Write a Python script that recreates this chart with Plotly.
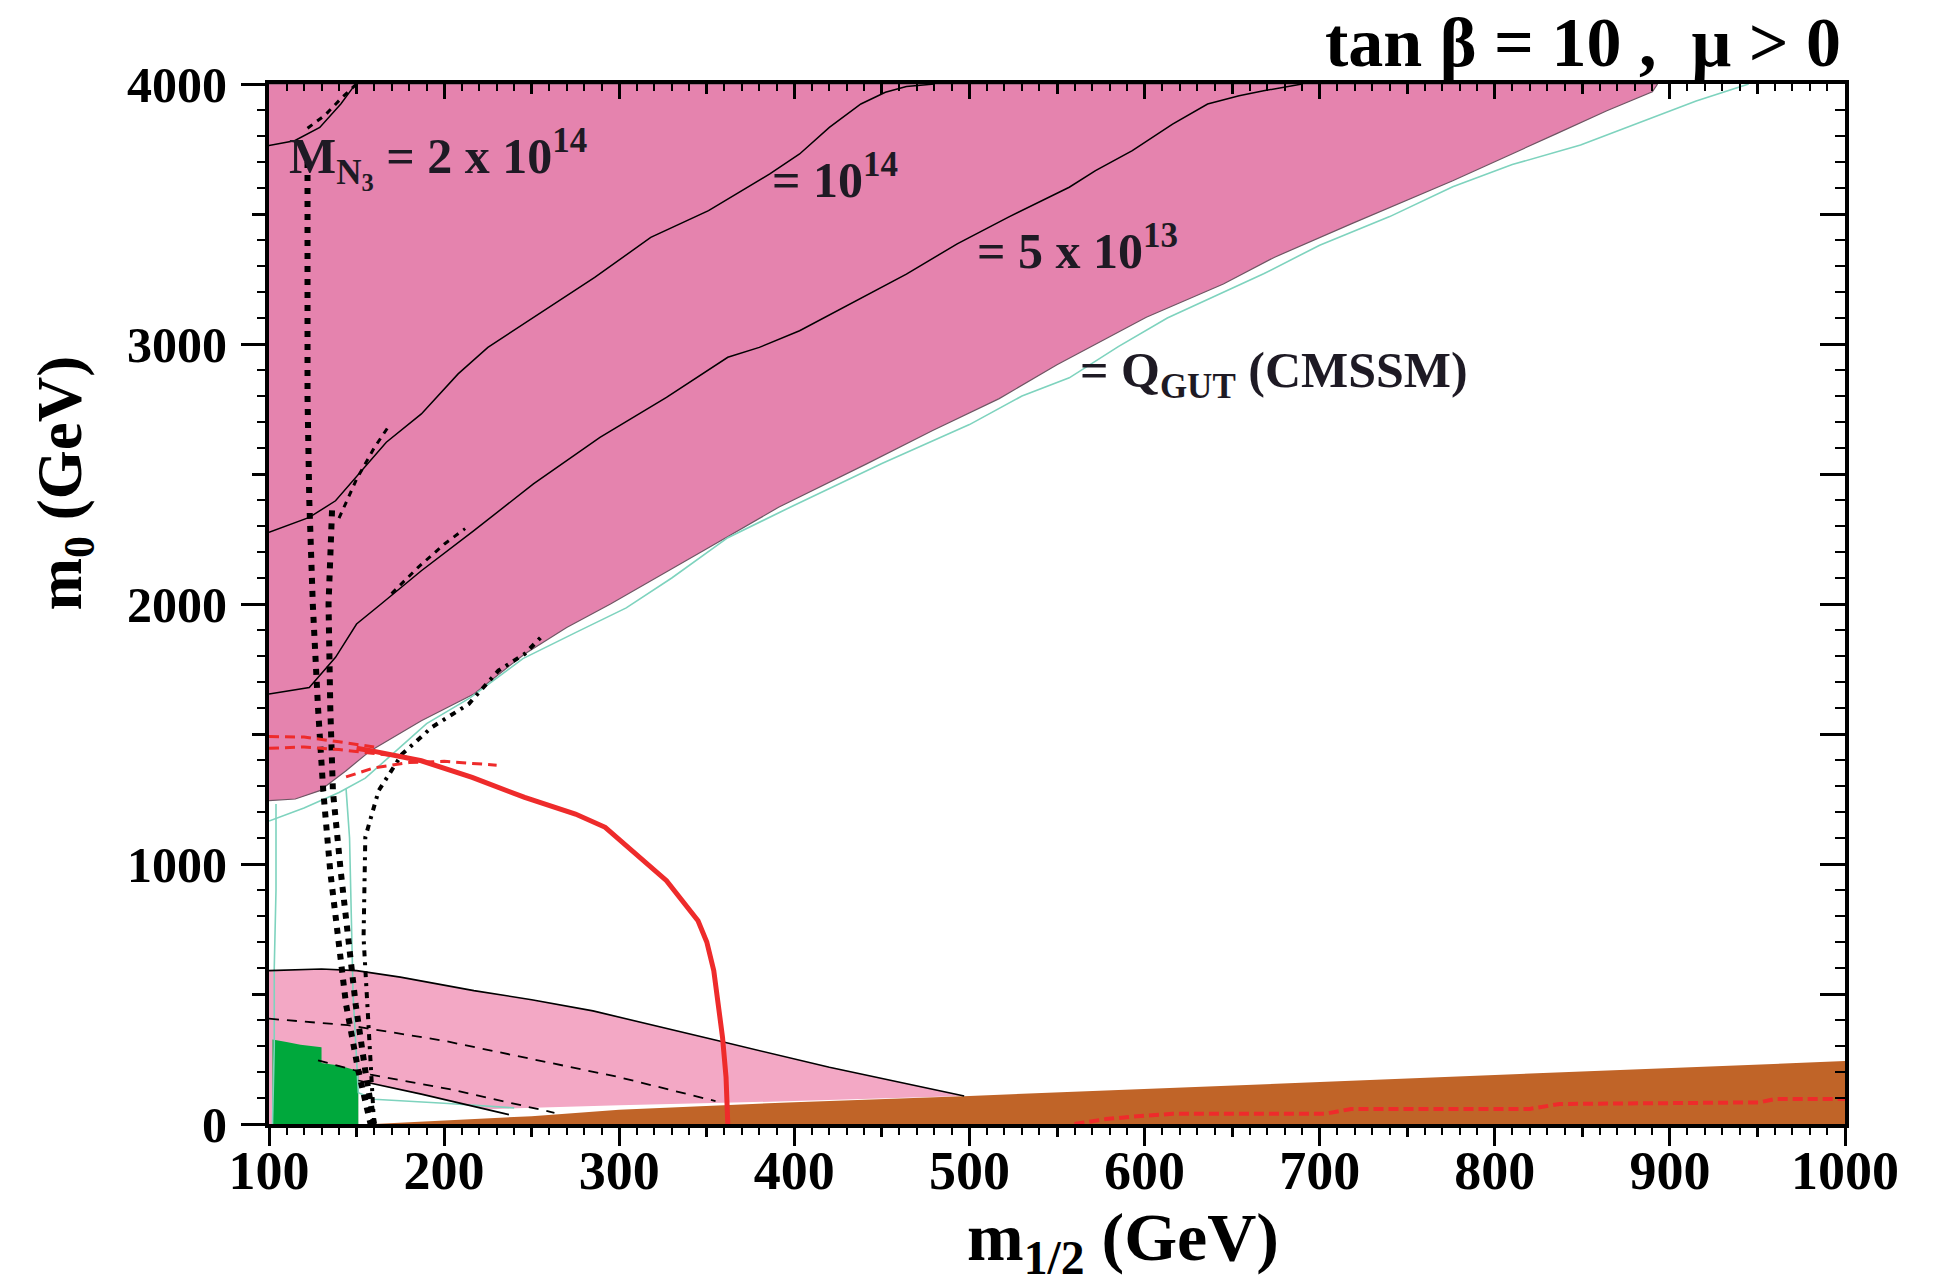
import plotly.graph_objects as go

X_RANGE = [100, 1000]
Y_RANGE = [0, 4000]

# ---- filled regions (m1/2, m0 in GeV) ----
# lower edge of the upper-left excluded band
band_edge_m12 = [100, 115, 129, 144, 158, 187, 217, 246, 270, 295, 348, 391, 441, 479,
                 517, 550, 601, 645, 674, 718, 776, 805, 835, 864, 890, 893]
band_edge_m0 = [1244, 1250, 1282, 1359, 1436, 1551, 1654, 1808, 1910, 2000, 2205, 2372, 2538, 2667,
                2790, 2920, 3103, 3231, 3333, 3462, 3628, 3718, 3808, 3897, 3970, 4000]

# light pink region: upper solid boundary
arc_m12 = [100, 130, 150, 175, 217, 250, 285, 320, 356, 420, 460, 497]
arc_m0 = [590, 596, 590, 565, 513, 478, 435, 380, 321, 218, 162, 108]
# light pink region: lower edge (right to left)
floor_m12 = [497, 400, 300, 225]
floor_m0 = [108, 88, 72, 57]

# lower solid boundary under the light pink region
low_m12 = [151, 187, 237]
low_m0 = [167, 115, 36]

# dashed contours inside the light pink region
dash_hi_m12 = [100, 145, 200, 253, 300, 355]
dash_hi_m0 = [405, 380, 320, 246, 180, 88]
dash_lo_m12 = [128, 135, 158, 204, 263]
dash_lo_m0 = [245, 232, 190, 133, 43]

# green region
green_m12 = [102, 102, 110, 118, 130, 130, 140, 148, 151, 151]
green_m0 = [0, 325, 315, 305, 295, 235, 225, 210, 200, 0]

# brown region
brown_m12 = [160, 250, 300, 400, 500, 600, 700, 800, 900, 1000, 1000]
brown_m0 = [0, 30, 55, 84, 108, 135, 162, 190, 216, 242, 0]

# ---- contour lines ----
mn_2e14_m12 = [100, 114.6, 129, 141, 148, 150]
mn_2e14_m0 = [3763, 3782, 3833, 3923, 3987, 4000]

mn_1e14_m12 = [100, 123, 138, 167, 187, 208, 225, 254, 286, 318, 351, 386, 403, 420, 438, 452, 464, 480]
mn_1e14_m0 = [2276, 2333, 2397, 2622, 2731, 2885, 2987, 3115, 3256, 3410, 3513, 3654, 3731, 3833,
              3923, 3968, 3990, 4000]

mn_5e13_m12 = [100, 123, 138, 150, 164, 187, 217, 251, 289, 327, 362, 380, 403, 435, 464, 493, 522,
               557, 572, 593, 616, 636, 654, 668, 690]
mn_5e13_m0 = [1654, 1679, 1795, 1923, 2000, 2128, 2282, 2462, 2641, 2795, 2949, 2987, 3051, 3167,
              3269, 3385, 3487, 3603, 3667, 3744, 3846, 3923, 3955, 3974, 4000]

# Q_GUT (CMSSM) boundary
qgut_m12 = [100, 120, 140, 155, 170, 190, 215, 245, 275, 304, 330, 362, 400, 450, 500, 530, 557,
            585, 613, 640, 668, 700, 740, 776, 810, 849, 870, 893, 915, 945]
qgut_m0 = [1165, 1215, 1275, 1330, 1420, 1540, 1640, 1790, 1890, 1985, 2100, 2255, 2380, 2540,
           2690, 2800, 2870, 2990, 3100, 3185, 3270, 3380, 3490, 3605, 3690, 3765, 3820, 3880,
           3935, 4000]
cyan_left_m12 = [104, 104, 103, 103, 102]
cyan_left_m0 = [1231, 900, 600, 300, 0]
cyan_low_m12 = [144, 146, 147, 148, 150, 151, 160, 200, 240]
cyan_low_m0 = [1290, 1100, 800, 500, 250, 120, 95, 80, 62]

# thick dotted contours
dot_a_m12 = [122, 122, 122, 123, 125, 128, 131, 135, 139, 144, 151, 158]
dot_a_m0 = [3700, 3200, 2800, 2400, 2000, 1600, 1280, 970, 720, 460, 205, 0]
dot_b_m12 = [136, 135, 134, 135, 136.5, 141, 145, 149.5, 155, 160]
dot_b_m0 = [2360, 2100, 2000, 1600, 1280, 970, 720, 460, 205, 0]

# dash-dot contour
dd_m12 = [160, 154, 155, 162.6, 176, 193, 214, 231, 246, 255]
dd_m0 = [0, 718, 1103, 1282, 1423, 1526, 1615, 1744, 1808, 1870]

# short dashed segments beside the M_N3 contours
seg1_m12 = [140, 150, 160, 168]
seg1_m0 = [2330, 2480, 2600, 2680]
seg2_m12 = [170, 185, 200, 212]
seg2_m0 = [2040, 2140, 2230, 2290]
seg3_m12 = [122, 132, 142, 150]
seg3_m0 = [3830, 3880, 3950, 4000]

# red contours
red_m12 = [150, 158, 187, 216, 246, 275, 292, 310, 327, 345, 350, 354, 357, 359, 361, 362]
red_m0 = [1445, 1436, 1397, 1333, 1256, 1192, 1141, 1038, 936, 782, 700, 590, 450, 333, 180, 0]
red_d1_m12 = [100, 120, 140, 160]
red_d1_m0 = [1490, 1488, 1470, 1450]
red_d2_m12 = [100, 120, 140, 160, 180]
red_d2_m0 = [1445, 1450, 1440, 1425, 1410]
red_d3_m12 = [144, 160, 180, 200, 230]
red_d3_m0 = [1335, 1370, 1390, 1395, 1380]
red_low_m12 = [560, 578, 600, 616, 703, 718, 820, 837, 951, 960, 1000]
red_low_m0 = [0, 19, 32, 39, 39, 58, 58, 77, 83, 96, 96]

# axis ticks
x_major = list(range(100, 1001, 100))
x_mid = list(range(150, 1000, 100))
y_major = list(range(0, 4001, 1000))
y_mid = list(range(500, 4000, 1000))
y_right = list(range(0, 4001, 500))

PINK_DARK = "#E583AE"
PINK_LIGHT = "#F3A8C5"
GREEN = "#00A83C"
BROWN = "#C06428"
RED = "#EE2B2B"
CYAN = "#7ED3BE"
SERIF = "Liberation Serif"

fig = go.Figure()


def area(xs, ys, color, line_color=None, line_width=0):
    fig.add_trace(go.Scatter(x=xs, y=ys, fill="toself", fillcolor=color, mode="lines",
                             line=dict(color=line_color or color, width=line_width),
                             hoverinfo="skip", showlegend=False))


def curve(xs, ys, color, width, dash="solid"):
    fig.add_trace(go.Scatter(x=xs, y=ys, mode="lines", line=dict(color=color, width=width, dash=dash),
                             hoverinfo="skip", showlegend=False))


# light pink region
area(arc_m12 + floor_m12 + low_m12[1::-1] + [low_m12[0], X_RANGE[0]],
     arc_m0 + floor_m0 + low_m0[1::-1] + [Y_RANGE[0], Y_RANGE[0]], PINK_LIGHT)
# brown and green regions
area(brown_m12, brown_m0, BROWN)
area(green_m12, green_m0, GREEN)
# upper-left band
area(band_edge_m12 + [X_RANGE[0]], band_edge_m0 + [Y_RANGE[1]], PINK_DARK, "#6E5563", 1.2)

# cyan boundaries
curve(qgut_m12, qgut_m0, CYAN, 1.6)
curve(cyan_left_m12, cyan_left_m0, CYAN, 1.6)
curve(cyan_low_m12, cyan_low_m0, CYAN, 1.6)

# black contours
curve(arc_m12, arc_m0, "black", 1.6)
curve(low_m12, low_m0, "black", 1.6)
curve(dash_hi_m12, dash_hi_m0, "black", 1.8, "10px,8px")
curve(dash_lo_m12, dash_lo_m0, "black", 1.8, "10px,8px")
curve(mn_2e14_m12, mn_2e14_m0, "black", 1.5)
curve(mn_1e14_m12, mn_1e14_m0, "black", 1.5)
curve(mn_5e13_m12, mn_5e13_m0, "black", 1.5)
curve(seg1_m12, seg1_m0, "black", 3, "6px,6px")
curve(seg2_m12, seg2_m0, "black", 3, "6px,6px")
curve(seg3_m12, seg3_m0, "black", 3, "6px,6px")
curve(dot_a_m12, dot_a_m0, "black", 6, "6px,7px")
curve(dot_b_m12, dot_b_m0, "black", 6, "6px,7px")
curve(dd_m12, dd_m0, "black", 4, "6px,6px,3px,6px")

# red contours
curve(red_d1_m12, red_d1_m0, RED, 3, "10px,6px")
curve(red_d2_m12, red_d2_m0, RED, 3, "10px,6px")
curve(red_d3_m12, red_d3_m0, RED, 3, "10px,6px")
curve(red_m12, red_m0, RED, 5)
curve(red_low_m12, red_low_m0, RED, 4, "10px,5px")

# helper traces so the extra tick axes are drawn
for xa, ya in [("x2", "y"), ("x3", "y"), ("x4", "y"), ("x", "y2"), ("x", "y3")]:
    fig.add_trace(go.Scatter(x=[None], y=[None], xaxis=xa, yaxis=ya, mode="lines",
                             hoverinfo="skip", showlegend=False))

tick_font = dict(family=SERIF, color="black", weight="bold")
common = dict(showgrid=False, zeroline=False, fixedrange=True)

fig.update_layout(
    width=1933, height=1288,
    margin=dict(l=269, r=88, t=84, b=164),
    paper_bgcolor="white", plot_bgcolor="white",
    xaxis=dict(range=X_RANGE, tickvals=x_major, ticks="outside", ticklen=18, tickwidth=2.5,
               tickcolor="black", showline=True, linewidth=4, linecolor="black", mirror=True,
               tickfont=dict(size=54, **tick_font), ticklabelstandoff=-22,
               minor=dict(dtick=10, tick0=100, ticks="outside", ticklen=7, tickwidth=2,
                          tickcolor="black"), **common),
    xaxis2=dict(range=X_RANGE, overlaying="x", anchor="y", side="bottom", tickvals=x_mid,
                ticks="outside", ticklen=12, tickwidth=2.5, tickcolor="black",
                showticklabels=False, showline=False, **common),
    xaxis3=dict(range=X_RANGE, overlaying="x", anchor="y", side="top", tickvals=x_major,
                ticks="inside", ticklen=15, tickwidth=2.5, tickcolor="black",
                showticklabels=False, showline=False,
                minor=dict(dtick=10, tick0=100, ticks="inside", ticklen=7, tickwidth=2,
                           tickcolor="black"), **common),
    xaxis4=dict(range=X_RANGE, overlaying="x", anchor="y", side="top", tickvals=x_mid,
                ticks="inside", ticklen=10, tickwidth=2.5, tickcolor="black",
                showticklabels=False, showline=False, **common),
    yaxis=dict(range=Y_RANGE, tickvals=y_major, ticks="outside", ticklen=24, tickwidth=2.5,
               tickcolor="black", showline=True, linewidth=4, linecolor="black", mirror=True,
               tickfont=dict(size=50, **tick_font), ticklabelstandoff=4,
               minor=dict(dtick=100, tick0=0, ticks="outside", ticklen=8, tickwidth=2,
                          tickcolor="black"), **common),
    yaxis2=dict(range=Y_RANGE, overlaying="y", anchor="x", side="left", tickvals=y_mid,
                ticks="outside", ticklen=16, tickwidth=2.5, tickcolor="black",
                showticklabels=False, showline=False, **common),
    yaxis3=dict(range=Y_RANGE, overlaying="y", anchor="x", side="right", tickvals=y_right,
                ticks="inside", ticklen=25, tickwidth=2.5, tickcolor="black",
                showticklabels=False, showline=False,
                minor=dict(dtick=100, tick0=0, ticks="inside", ticklen=10, tickwidth=2,
                           tickcolor="black"), **common),
)

label_font = dict(family=SERIF, color="#1E1A24", weight="bold")
notes = [
    ("M<sub>N<sub>3</sub></sub> = 2 x 10<sup>14</sup>", 110, 3712, 50),
    ("= 10<sup>14</sup>", 386, 3646, 50),
    ("= 5 x 10<sup>13</sup>", 503, 3373, 50),
    ("= Q<sub>GUT</sub> (CMSSM)", 562, 2886, 50),
]
for text, xv, yv, size in notes:
    fig.add_annotation(x=xv, y=yv, xref="x", yref="y", text=text, showarrow=False,
                       xanchor="left", yanchor="middle", font=dict(size=size, **label_font))

NB = "\u00a0"
fig.add_annotation(x=0.9987, y=1.0788, xref="paper", yref="paper",
                   text=f"tan{NB}β{NB}={NB}10{NB},{NB}{NB}μ{NB}>{NB}0", showarrow=False,
                   xanchor="right", yanchor="top",
                   font=dict(size=70, family=SERIF, color="black", weight="bold"))
fig.add_annotation(x=0.542, y=-0.1555, xref="paper", yref="paper",
                   text="m<sub>1/2</sub> (GeV)", showarrow=False, xanchor="center",
                   yanchor="bottom", font=dict(size=68, family=SERIF, color="black", weight="bold"))
fig.add_annotation(x=-0.130, y=0.616, xref="paper", yref="paper",
                   text="m<sub>0</sub> (GeV)", showarrow=False, xanchor="center",
                   yanchor="middle", textangle=-90,
                   font=dict(size=63, family=SERIF, color="black", weight="bold"))

fig.write_html("out.html")
